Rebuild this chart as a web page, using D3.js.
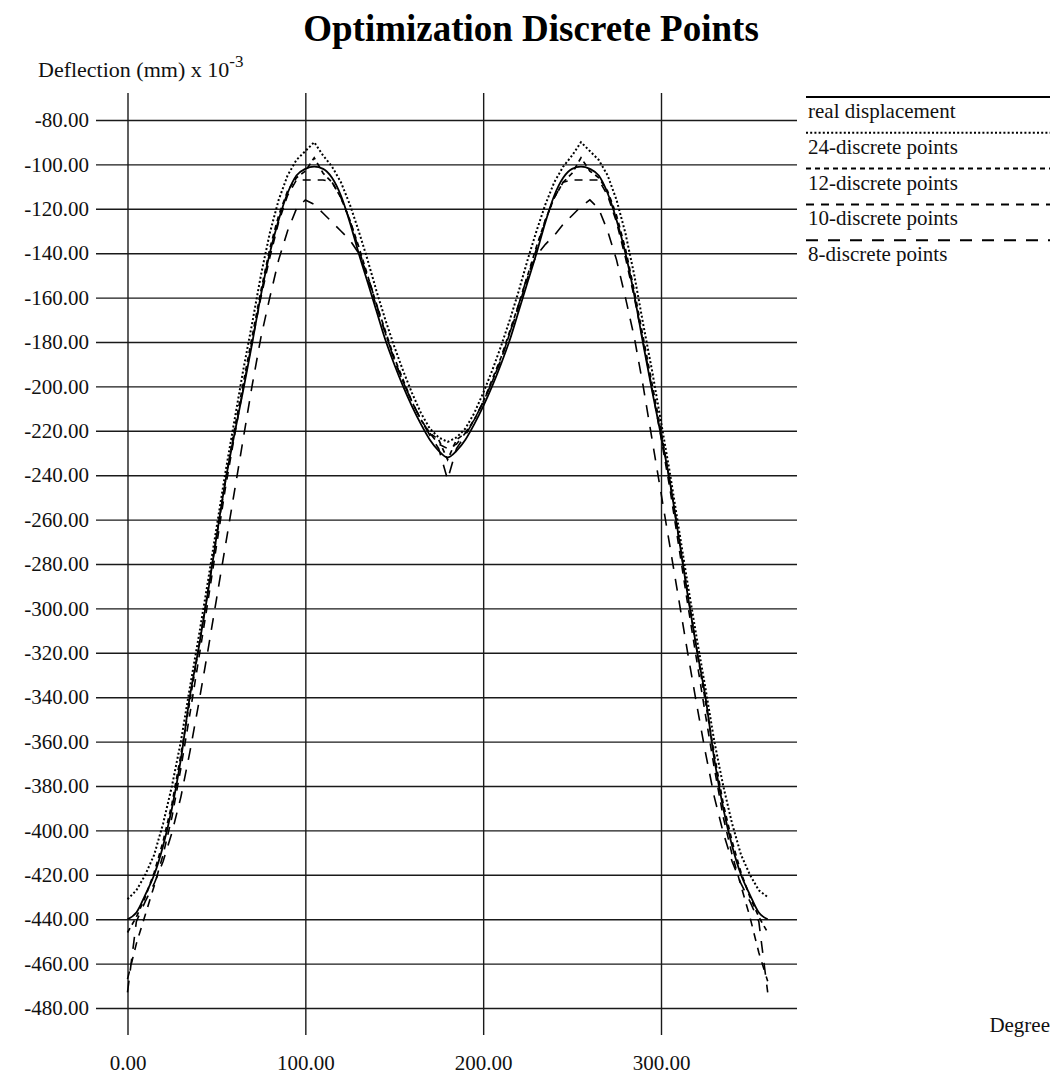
<!DOCTYPE html>
<html>
<head>
<meta charset="utf-8">
<script src="https://cdn.jsdelivr.net/npm/d3@7"></script>
<style>
  body { margin: 0; background: #fff; }
  svg { font-family: "Liberation Serif", "DejaVu Serif", serif; }
</style>
</head>
<body>
<svg id="chart" width="1056" height="1079"></svg>
<script>
// degrees, every 5 deg from 0 to 360
const degrees = [0,5,10,15,20,25,30,35,40,45,50,55,60,65,70,75,80,85,90,95,100,105,110,115,120,125,130,135,140,145,150,155,160,165,170,175,
  180,185,190,195,200,205,210,215,220,225,230,235,240,245,250,255,260,265,270,275,280,285,290,295,300,305,310,315,320,325,330,335,340,345,350,355,360];

const realDisplacement = [-440,-437,-429,-420,-407,-390,-368,-340,-318,-294,-268,-243,-222,-202,-181,-159,-140,-125,-113,-105,-102,-101,-102,-106,-114,-126,-140,-153,-166,-179,-190,-200,-209,-217,-224,-229,
  -232,-229,-224,-217,-209,-200,-190,-179,-166,-153,-140,-126,-114,-106,-102,-101,-102,-105,-113,-125,-140,-159,-181,-202,-222,-243,-268,-294,-318,-340,-368,-390,-407,-420,-429,-437,-440];

const points24 = [-431,-427,-420,-411,-397,-380,-360,-336,-313,-289,-264,-239,-216,-193,-172,-150,-131,-116,-105,-98,-94,-90,-96,-101,-108,-118,-130,-143,-157,-170,-182,-193,-203,-212,-219,-223,
  -225,-223,-219,-212,-203,-193,-182,-170,-157,-143,-130,-118,-108,-101,-96,-90,-94,-98,-105,-116,-131,-150,-172,-193,-216,-239,-264,-289,-313,-336,-360,-380,-397,-411,-420,-427,-430];

const points12 = [-446,-439,-430,-419,-405,-388,-366,-342,-318,-293,-268,-243,-220,-199,-178,-157,-138,-123,-112,-106,-103,-97,-104,-108,-115,-125,-137,-150,-163,-175,-187,-197,-207,-215,-221,-224,
  -233,-224,-221,-215,-207,-197,-187,-175,-163,-150,-137,-125,-115,-108,-104,-97,-103,-106,-112,-123,-138,-157,-178,-199,-220,-243,-268,-293,-318,-342,-366,-388,-405,-419,-430,-439,-446];

const points10 = [-467,-451,-438,-425,-411,-394,-372,-348,-323,-298,-272,-246,-223,-201,-180,-160,-142,-126,-114,-107,-107,-107,-107,-108,-115,-125,-138,-151,-164,-176,-188,-198,-207,-215,-221,-226,
  -228,-226,-221,-215,-207,-198,-188,-176,-164,-151,-138,-125,-115,-108,-107,-107,-107,-107,-114,-126,-142,-160,-180,-201,-223,-246,-272,-298,-323,-348,-372,-394,-411,-425,-439,-455,-468];

const points8 = [-473,-441,-432,-424,-414,-401,-385,-365,-343,-320,-296,-272,-248,-224,-200,-178,-160,-143,-130,-120,-116,-118,-122,-126,-130,-134,-140,-150,-163,-176,-188,-198,-207,-215,-222,-228,
  -242,-228,-222,-215,-207,-198,-188,-176,-163,-150,-141,-136,-132,-127,-123,-119,-116,-120,-130,-143,-160,-178,-200,-224,-248,-272,-296,-320,-343,-365,-385,-401,-414,-424,-432,-441,-473];

const seriesNames = ['real displacement', '24-discrete points', '12-discrete points', '10-discrete points', '8-discrete points'];
const seriesValues = [realDisplacement, points24, points12, points10, points8];
const seriesDash = [null, '2,2.2', '5,4', '8,7', '12,10'];
const seriesWidth = [1.8, 2, 1.7, 1.6, 1.6];

const yTicks = [-80,-100,-120,-140,-160,-180,-200,-220,-240,-260,-280,-300,-320,-340,-360,-380,-400,-420,-440,-460,-480];
const xTicks = [0, 100, 200, 300];

const svg = d3.select('#chart');

const plot = { left: 96, right: 797, top: 93, bottom: 1035 };

const x = d3.scaleLinear().domain([0, 300]).range([127.5, 661]);
const y = d3.scaleLinear().domain([-80, -480]).range([120, 1008]);

const fmt = d => d.toFixed(2);

// y grid + labels
const yAxis = svg.append('g')
  .attr('transform', `translate(${plot.left},0)`)
  .call(d3.axisLeft(y).tickValues(yTicks).tickSize(-(plot.right - plot.left)).tickPadding(7).tickFormat(fmt));
yAxis.select('.domain').remove();
yAxis.selectAll('.tick line').attr('stroke', '#1a1a1a').attr('stroke-width', 1.4);
yAxis.selectAll('.tick text')
  .attr('font-size', 21)
  .attr('font-family', 'Liberation Serif')
  .attr('fill', '#111');

// x grid + labels
const xAxis = svg.append('g')
  .attr('transform', `translate(0,${plot.bottom})`)
  .call(d3.axisBottom(x).tickValues(xTicks).tickSize(-(plot.bottom - plot.top)).tickPadding(20).tickFormat(fmt));
xAxis.select('.domain').remove();
xAxis.selectAll('.tick line').attr('stroke', '#1a1a1a').attr('stroke-width', 1.4);
xAxis.selectAll('.tick text')
  .attr('font-size', 21)
  .attr('font-family', 'Liberation Serif')
  .attr('fill', '#111');

// curves
const line = d3.line()
  .x((d, i) => x(degrees[i]))
  .y(d => y(d));

seriesValues.forEach((vals, i) => {
  svg.append('path')
    .datum(vals)
    .attr('d', i === 0 ? line.curve(d3.curveMonotoneX)(vals) : line.curve(d3.curveLinear)(vals))
    .attr('fill', 'none')
    .attr('stroke', '#000')
    .attr('stroke-width', seriesWidth[i])
    .attr('stroke-dasharray', seriesDash[i]);
});

// title
svg.append('text')
  .attr('x', 531).attr('y', 41)
  .attr('text-anchor', 'middle')
  .attr('font-size', 37)
  .attr('font-weight', 'bold')
  .attr('fill', '#000')
  .text('Optimization Discrete Points');

// y axis title
const yt = svg.append('text')
  .attr('x', 38).attr('y', 77)
  .attr('font-size', 22)
  .attr('fill', '#111');
yt.append('tspan').text('Deflection (mm) x 10');
yt.append('tspan').attr('dy', -10).attr('font-size', 17).text('-3');

// x axis title
svg.append('text')
  .attr('x', 1050).attr('y', 1032)
  .attr('text-anchor', 'end')
  .attr('font-size', 21)
  .attr('fill', '#111')
  .text('Degree');

// legend
const legend = svg.append('g');
seriesNames.forEach((name, i) => {
  const ly = 97 + i * 35.8;
  legend.append('line')
    .attr('x1', 806).attr('x2', 1050)
    .attr('y1', ly).attr('y2', ly)
    .attr('stroke', '#000')
    .attr('stroke-width', i === 0 ? 2.2 : 2)
    .attr('stroke-dasharray', seriesDash[i]);
  legend.append('text')
    .attr('x', 808).attr('y', ly + 21)
    .attr('font-size', 21)
    .attr('fill', '#111')
    .text(name);
});
</script>
</body>
</html>
